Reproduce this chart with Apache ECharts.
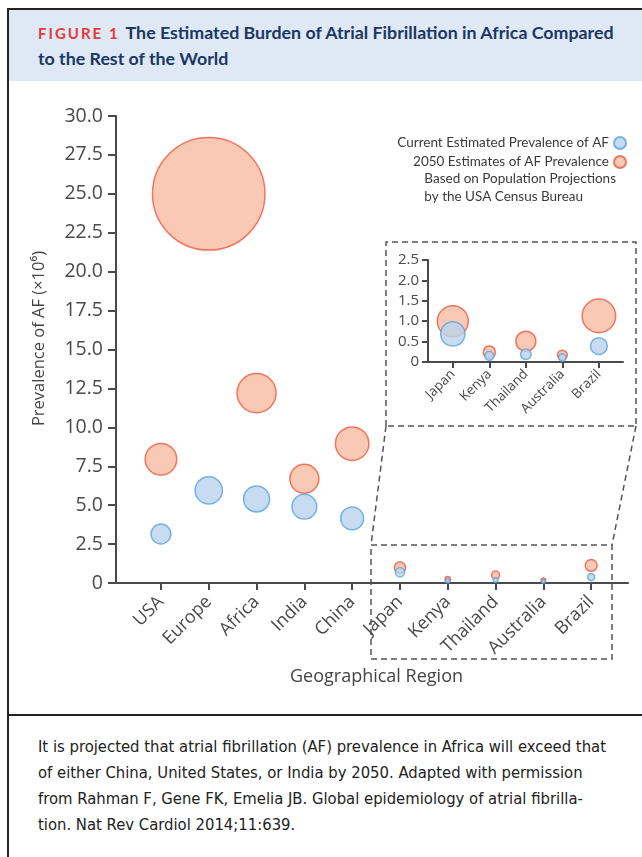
<!DOCTYPE html>
<html>
<head>
<meta charset="utf-8">
<script src="https://cdn.jsdelivr.net/npm/echarts@6/dist/echarts.min.js"></script>
<style>
  html, body { margin: 0; padding: 0; background: #fff; }
  .page { position: relative; width: 642px; height: 857px; overflow: hidden; }
  .frame { position: absolute; left: 7px; top: 8px; width: 700px; height: 900px;
           border-left: 2px solid #222; border-top: 2px solid #222; }
  .header { position: absolute; left: 9px; top: 10px; width: 640px; height: 71px; background: #dee9f5; }
  .title { position: absolute; left: 38px; top: 20px; width: 600px; line-height: 25px;
           font-family: Lato, "Open Sans", sans-serif; font-weight: 700; font-size: 17.8px; color: #1c3763; }
  .title .fig { color: #e6393a; letter-spacing: 2px; font-size: 15px; margin-right: 6px; }
  .divider { position: absolute; left: 7px; top: 714px; width: 640px; height: 2px; background: #222; }
  .caption { position: absolute; left: 38px; top: 734px; width: 600px; line-height: 26px;
             font-family: "Liberation Sans Narrow", "DejaVu Sans Condensed", sans-serif;
             font-size: 16.5px; color: #222; }
  #chart { position: absolute; left: 0; top: 0; width: 642px; height: 857px; }
</style>
</head>
<body>
<div class="page">
  <div class="frame"></div>
  <div class="header"></div>
  <div class="title"><span class="fig">FIGURE 1</span>The Estimated Burden of Atrial Fibrillation in Africa Compared<br>to the Rest of the World</div>
  <div class="divider"></div>
  <div class="caption">It is projected that atrial fibrillation (AF) prevalence in Africa will exceed that<br>of either China, United States, or India by 2050. Adapted with permission<br>from Rahman F, Gene FK, Emelia JB. Global epidemiology of atrial fibrilla-<br>tion. Nat Rev Cardiol 2014;11:639.</div>
  <div id="chart"></div>
</div>
<script>
// prevalence of AF, millions
const regions = ['USA', 'Europe', 'Africa', 'India', 'China', 'Japan', 'Kenya', 'Thailand', 'Australia', 'Brazil']
const currentAF = [3.15, 5.95, 5.4, 4.9, 4.15, 0.69, 0.15, 0.19, 0.11, 0.39]
const projected2050 = [7.95, 25.0, 12.2, 6.7, 8.95, 1.0, 0.24, 0.51, 0.17, 1.13]
// countries shown again in the zoomed inset
const insetRegions = ['Japan', 'Kenya', 'Thailand', 'Australia', 'Brazil']

const CURRENT_NAME = 'Current Estimated Prevalence of AF'
const FUTURE_NAME = '2050 Estimates of AF Prevalence'

const grey = '#4a4a4a'
const font = '"Open Sans", sans-serif'
const blue = { color: '#b9d3ee', borderColor: '#5aa3de', borderWidth: 1.5 }
const red = { color: '#f8bba3', borderColor: '#ee5a3f', borderWidth: 1.5 }

const mainPoints = vals => vals.map((v, i) => [i, v])
const insetPoints = vals => insetRegions.map((r, i) => [i, vals[regions.indexOf(r)]])

// bubble size grows with prevalence (Europe 2050 drawn extra large as in the original)
const mainSize = d => d[1] > 20 ? 4.5 * d[1] : 11.2 * Math.sqrt(d[1])
const insetSize = d => 31 * Math.pow(d[1], 0.65)

const fmtY = v => v === 0 ? '0' : v.toFixed(1)
const idx = n => Array.from({ length: n }, (_, i) => i)

function axisX(gridIndex, min, max, names, fontSize, tickLen, margin) {
  return {
    type: 'value', gridIndex, min, max,
    axisLine: { lineStyle: { color: grey, width: 2 } },
    axisTick: { customValues: idx(names.length), length: tickLen, lineStyle: { color: grey, width: 2 } },
    axisLabel: {
      customValues: idx(names.length), formatter: v => names[v],
      rotate: 45, color: grey, fontSize, fontFamily: font, margin
    },
    splitLine: { show: false }
  }
}

function axisY(gridIndex, max, interval, fontSize, tickLen, margin, extra) {
  return Object.assign({
    type: 'value', gridIndex, min: 0, max, interval,
    axisLine: { show: true, onZero: false, lineStyle: { color: grey, width: 2 } },
    axisTick: { show: true, length: tickLen, lineStyle: { color: grey, width: 2 } },
    axisLabel: { formatter: fmtY, color: grey, fontSize, fontFamily: font, margin },
    splitLine: { show: false }
  }, extra)
}

const dash = { stroke: '#555', lineWidth: 1.5, lineDash: [6, 4], fill: null }
const line = points => ({ type: 'polyline', shape: { points }, style: dash, silent: true })

const chart = echarts.init(document.getElementById('chart'))
chart.setOption({
  animation: false,
  textStyle: { fontFamily: font },
  legend: {
    data: [CURRENT_NAME, FUTURE_NAME],
    orient: 'vertical', align: 'right',
    right: 10, top: 131, itemGap: 5,
    itemWidth: 12, itemHeight: 12, icon: 'circle',
    textStyle: { color: '#3a3a3a', fontSize: 13.5, fontFamily: 'Lato, sans-serif' }
  },
  grid: [
    { left: 116, top: 116, width: 512, height: 467 },
    { left: 428, top: 260, width: 195, height: 102 }
  ],
  xAxis: [
    axisX(0, -0.94, 9.77, regions, 18, 7, 16),
    axisX(1, -0.68, 4.66, insetRegions, 13.5, 6, 10)
  ],
  yAxis: [
    axisY(0, 30, 2.5, 19.5, 8, 13, {
      name: 'Prevalence of AF (×10⁶)', nameLocation: 'middle', nameGap: 68,
      nameTextStyle: { color: '#444', fontSize: 16.5, fontFamily: font, padding: [0, 0, 0, 22] }
    }),
    axisY(1, 2.5, 0.5, 15, 6, 9, {})
  ],
  graphic: [
    {
      type: 'text', right: 26, top: 170,
      style: {
        text: 'Based on Population Projections\nby the USA Census Bureau',
        fill: '#3a3a3a', font: '13.5px Lato, sans-serif', align: 'right', lineHeight: 17.5
      }
    },
    {
      type: 'text', left: 290, top: 668,
      style: { text: 'Geographical Region', fill: '#444', font: '18px "Open Sans", sans-serif' }
    },
    // zoom box linking the small countries to the inset
    line([[386, 426], [386, 242], [636, 242], [636, 426], [386, 426]]),
    line([[386, 426], [371, 545]]),
    line([[636, 426], [612, 545]]),
    line([[371, 545], [612, 545], [612, 659], [371, 659], [371, 545]])
  ],
  series: [
    { name: FUTURE_NAME, type: 'scatter', xAxisIndex: 0, yAxisIndex: 0,
      data: mainPoints(projected2050), symbolSize: mainSize, itemStyle: red },
    { name: CURRENT_NAME, type: 'scatter', xAxisIndex: 0, yAxisIndex: 0,
      data: mainPoints(currentAF), symbolSize: mainSize, itemStyle: blue },
    { name: FUTURE_NAME, type: 'scatter', xAxisIndex: 1, yAxisIndex: 1,
      data: insetPoints(projected2050), symbolSize: insetSize, itemStyle: red },
    { name: CURRENT_NAME, type: 'scatter', xAxisIndex: 1, yAxisIndex: 1,
      data: insetPoints(currentAF), symbolSize: insetSize, itemStyle: blue }
  ]
})
</script>
</body>
</html>
